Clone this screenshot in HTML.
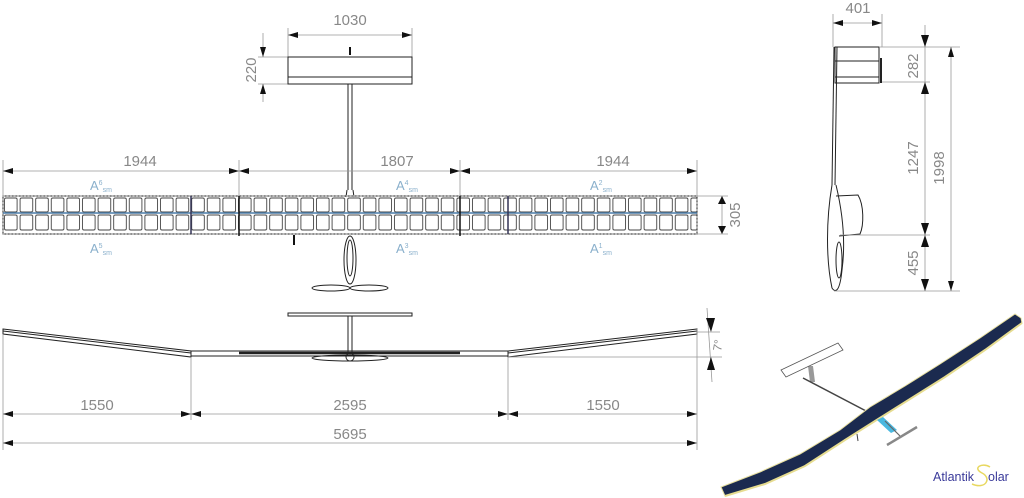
<!DOCTYPE html>
<html><head><meta charset="utf-8"><style>
html,body{margin:0;padding:0;background:#fff;width:1024px;height:498px;overflow:hidden}
svg{display:block}
.d{stroke:#999;stroke-width:0.8;fill:none}
.k{stroke:#222;stroke-width:1;fill:none}
.t{font-family:"Liberation Sans",sans-serif;font-size:15px;fill:#888;text-anchor:middle}
.a{font-family:"Liberation Sans",sans-serif;font-size:13px;fill:#8ab0cc}
.s{font-size:7px}
</style></head><body>
<svg width="1024" height="498" viewBox="0 0 1024 498" xmlns="http://www.w3.org/2000/svg">
<defs>
<marker id="ar" viewBox="0 0 10 6" refX="10" refY="3" markerWidth="13" markerHeight="6" markerUnits="userSpaceOnUse" orient="auto"><path d="M0,0L10,3L0,6z" fill="#111"/></marker>
<marker id="al" viewBox="0 0 10 6" refX="0" refY="3" markerWidth="13" markerHeight="6" markerUnits="userSpaceOnUse" orient="auto"><path d="M10,0L0,3L10,6z" fill="#111"/></marker>
<pattern id="cell" x="3" y="0" width="15.6" height="300" patternUnits="userSpaceOnUse">
<rect x="1.5" y="198" width="12.6" height="14" rx="1.5" fill="#fff" stroke="#444" stroke-width="0.9"/>
<rect x="1.5" y="215" width="12.6" height="15" rx="1.5" fill="#fff" stroke="#444" stroke-width="0.9"/>
</pattern>
</defs>

<!-- TOP VIEW -->
<line class="d" x1="288" y1="28" x2="288" y2="57"/><line class="d" x1="412" y1="28" x2="412" y2="57"/>
<line class="d" x1="288" y1="35" x2="412" y2="35" marker-start="url(#al)" marker-end="url(#ar)"/>
<text class="t" x="350" y="25">1030</text>
<line class="d" x1="258" y1="57" x2="288" y2="57"/><line class="d" x1="258" y1="84" x2="288" y2="84"/>
<line class="d" x1="263" y1="33" x2="263" y2="57" marker-end="url(#ar)"/>
<line class="d" x1="263" y1="102" x2="263" y2="84" marker-end="url(#ar)"/>
<text class="t" transform="translate(256,70) rotate(-90)">220</text>
<rect class="k" x="288" y="57" width="124" height="27"/>
<line class="k" x1="288" y1="77" x2="412" y2="77"/>
<line x1="350" y1="47" x2="350" y2="55" stroke="#111" stroke-width="2"/>
<line class="k" x1="348" y1="84" x2="348" y2="190"/><line class="k" x1="352" y1="84" x2="352" y2="190"/>
<path class="k" d="M347,190 L346,197 M353,190 L354,197"/>

<line class="d" x1="3" y1="160" x2="3" y2="197"/><line class="d" x1="239" y1="160" x2="239" y2="197"/>
<line class="d" x1="460" y1="160" x2="460" y2="197"/><line class="d" x1="697" y1="160" x2="697" y2="197"/>
<line class="d" x1="3" y1="171" x2="239" y2="171" marker-start="url(#al)" marker-end="url(#ar)"/>
<line class="d" x1="239" y1="171" x2="460" y2="171" marker-start="url(#al)" marker-end="url(#ar)"/>
<line class="d" x1="460" y1="171" x2="697" y2="171" marker-start="url(#al)" marker-end="url(#ar)"/>
<text class="t" x="140" y="166">1944</text><text class="t" x="397" y="166">1807</text><text class="t" x="613" y="166">1944</text>

<rect x="3" y="196" width="694" height="38" fill="url(#cell)" stroke="#222" stroke-width="1"/>
<rect x="3" y="196" width="694" height="38" fill="none" stroke="#aaa" stroke-width="1.5" stroke-dasharray="2,1.5"/>
<line x1="3" y1="213" x2="697" y2="213" stroke="#4a7ca8" stroke-width="1.5"/>
<line x1="239" y1="196" x2="239" y2="236" stroke="#111" stroke-width="1.5"/>
<line x1="460" y1="196" x2="460" y2="236" stroke="#111" stroke-width="1.5"/>
<line x1="191" y1="196" x2="191" y2="234" stroke="#335" stroke-width="1.5"/>
<line x1="508" y1="196" x2="508" y2="234" stroke="#335" stroke-width="1.5"/>

<text class="a" x="90" y="190">A<tspan class="s" dy="-5">6</tspan><tspan class="s" dy="7">sm</tspan></text>
<text class="a" x="90" y="253">A<tspan class="s" dy="-5">5</tspan><tspan class="s" dy="7">sm</tspan></text>
<text class="a" x="396" y="190">A<tspan class="s" dy="-5">4</tspan><tspan class="s" dy="7">sm</tspan></text>
<text class="a" x="396" y="253">A<tspan class="s" dy="-5">3</tspan><tspan class="s" dy="7">sm</tspan></text>
<text class="a" x="590" y="190">A<tspan class="s" dy="-5">2</tspan><tspan class="s" dy="7">sm</tspan></text>
<text class="a" x="590" y="253">A<tspan class="s" dy="-5">1</tspan><tspan class="s" dy="7">sm</tspan></text>

<line class="d" x1="697" y1="196" x2="728" y2="196"/><line class="d" x1="697" y1="234" x2="728" y2="234"/>
<line class="d" x1="722" y1="196" x2="722" y2="234"/>
<path d="M718,204 L722,196 L726,204z M718,226 L722,234 L726,226z" fill="#111"/>
<text class="t" transform="translate(740,215) rotate(-90)">305</text>

<line x1="294" y1="235" x2="294" y2="245" stroke="#111" stroke-width="2"/>
<ellipse class="k" cx="350" cy="260" rx="6" ry="24"/>
<ellipse class="k" cx="350" cy="258" rx="3" ry="18"/>
<ellipse class="k" cx="331" cy="288" rx="19" ry="3"/>
<ellipse class="k" cx="369" cy="288" rx="19" ry="3"/>

<!-- FRONT VIEW -->
<rect class="k" x="288" y="313" width="124" height="3"/>
<line class="k" x1="348" y1="316" x2="348" y2="352"/><line class="k" x1="352" y1="316" x2="352" y2="352"/>
<polygon class="k" points="3,329 191,351 191,357 3,334"/>
<line class="k" x1="3" y1="331" x2="191" y2="353"/>
<polygon class="k" points="697,329 508,351 508,357 697,334"/>
<line class="k" x1="697" y1="331" x2="508" y2="353"/>
<rect class="k" x="191" y="351" width="317" height="5"/>
<line x1="239" y1="353" x2="460" y2="353" stroke="#222" stroke-width="2.5"/>
<ellipse class="k" cx="350" cy="358" rx="38" ry="3"/>
<circle class="k" cx="350" cy="357" r="4"/>

<line class="d" x1="3" y1="334" x2="3" y2="450"/><line class="d" x1="191" y1="357" x2="191" y2="420"/>
<line class="d" x1="508" y1="357" x2="508" y2="420"/><line class="d" x1="697" y1="329" x2="697" y2="450"/>
<line class="d" x1="3" y1="414" x2="191" y2="414" marker-start="url(#al)" marker-end="url(#ar)"/>
<line class="d" x1="191" y1="414" x2="508" y2="414" marker-start="url(#al)" marker-end="url(#ar)"/>
<line class="d" x1="508" y1="414" x2="697" y2="414" marker-start="url(#al)" marker-end="url(#ar)"/>
<line class="d" x1="3" y1="443" x2="697" y2="443" marker-start="url(#al)" marker-end="url(#ar)"/>
<text class="t" x="97" y="410">1550</text><text class="t" x="350" y="410">2595</text><text class="t" x="603" y="410">1550</text>
<text class="t" x="350" y="439">5695</text>
<line class="d" x1="508" y1="357" x2="722" y2="357"/>
<line class="d" x1="697" y1="332" x2="720" y2="332"/>
<line class="d" x1="707" y1="308" x2="712" y2="382"/>
<path d="M706,318 L711,332 L715,318z M707,370 L711,357 L715,370z" fill="#111"/>
<text class="t" transform="translate(722,346) rotate(-80)" style="font-size:12px">7°</text>

<!-- SIDE VIEW -->
<line class="d" x1="833" y1="14" x2="833" y2="47"/><line class="d" x1="882" y1="14" x2="882" y2="47"/>
<line class="d" x1="833" y1="23" x2="882" y2="23" marker-start="url(#al)" marker-end="url(#ar)"/>
<text class="t" x="858" y="13">401</text>
<rect class="k" x="835" y="47" width="44" height="36"/>
<line class="k" x1="835" y1="61" x2="879" y2="61"/><line class="k" x1="835" y1="77" x2="879" y2="77"/>
<line x1="881" y1="58" x2="881" y2="83" stroke="#222" stroke-width="2"/>
<line class="k" x1="834" y1="47" x2="832" y2="185"/><line class="k" x1="837" y1="47" x2="835" y2="185"/>
<path class="k" d="M832,185 C826,220 826,260 832,288 C836,294 840,290 842,270 C846,240 842,210 836,185"/>
<ellipse class="k" cx="839" cy="260" rx="3" ry="18"/>
<path class="k" d="M836,196 L858,195 C864,205 864,225 860,234 L839,236"/>
<line class="d" x1="880" y1="47" x2="960" y2="47"/><line class="d" x1="882" y1="82" x2="930" y2="82"/>
<line class="d" x1="840" y1="235" x2="930" y2="235"/><line class="d" x1="834" y1="291" x2="960" y2="291"/>
<line class="d" x1="925" y1="25" x2="925" y2="291"/>
<path d="M921,35 L925,47 L929,35z M921,94 L925,82 L929,94z M921,223 L925,235 L929,223z M921,247 L925,235 L929,247z M921,279 L925,291 L929,279z" fill="#111"/>
<line class="d" x1="951" y1="47" x2="951" y2="291" marker-start="url(#al)" marker-end="url(#ar)"/>
<text class="t" transform="translate(918,66) rotate(-90)">282</text>
<text class="t" transform="translate(918,158) rotate(-90)">1247</text>
<text class="t" transform="translate(918,263) rotate(-90)">455</text>
<text class="t" transform="translate(944,168) rotate(-90)">1998</text>

<!-- 3D RENDER -->
<polygon points="808,366 813,366 815,382 810,382" fill="#999"/>
<polygon points="781,370 838,343 843,350 786,377" fill="#fff" stroke="#555" stroke-width="0.8"/>
<line x1="803" y1="378" x2="868" y2="412" stroke="#444" stroke-width="1.5"/>
<polygon points="721,487 760,472 800,454 840,430 870,407 905,386 940,364 980,338 1015,314 1021,318 1022,323 985,350 945,377 910,399 875,421 845,440 805,466 765,484 725,496" fill="#1b2a4f" stroke="#e8e0a0" stroke-width="1"/>
<polyline points="725,496 765,484 805,466 845,440 875,421 910,399 945,377 985,350 1022,323" fill="none" stroke="#e6dc90" stroke-width="2"/>
<polygon points="877,420 883,417 897,430 891,433" fill="#4ab8e0"/>
<line x1="885" y1="421" x2="900" y2="436" stroke="#666" stroke-width="1.2"/>
<line x1="887" y1="445" x2="917" y2="427" stroke="#888" stroke-width="2.5"/>
<line x1="857" y1="434" x2="858" y2="441" stroke="#444" stroke-width="1"/>

<text x="933" y="481" style="font-family:'Liberation Sans',sans-serif;font-size:12.5px;fill:#3a3a9a">Atlantik</text>
<text x="988" y="481" style="font-family:'Liberation Sans',sans-serif;font-size:12.5px;fill:#3a3a9a">olar</text>
<path d="M990,467 C982,462 972,468 982,473 C992,478 986,490 972,484" fill="none" stroke="#e8d860" stroke-width="1.5"/>
</svg>
</body></html>
